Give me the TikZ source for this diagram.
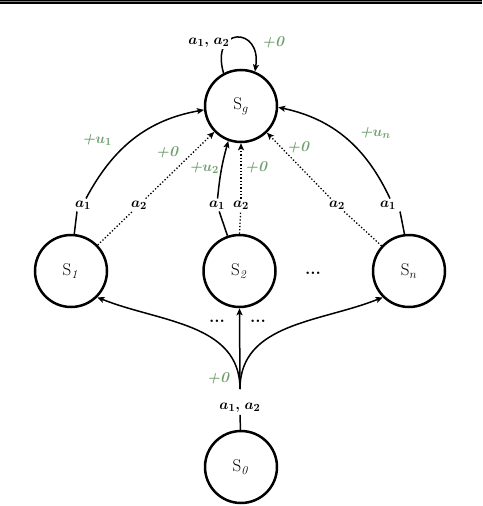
\documentclass[tikz,border=0pt]{standalone}
\usepackage{bm}
\usetikzlibrary{arrows.meta,calc}
\definecolor{rwgreen}{RGB}{112,160,112}
\begin{document}
\begin{tikzpicture}[x=1pt,y=1pt,
  font=\fontsize{15}{17}\selectfont,
  state/.style={circle,draw,line width=2.5pt,minimum size=72pt,inner sep=0pt,font=\fontsize{17}{19}\selectfont},
  act/.style={inner sep=2pt},
  rw/.style={text=rwgreen,inner sep=1pt,font=\fontsize{15}{17}\selectfont\bfseries\itshape},
  dotsty/.style={font=\fontsize{17}{19}\selectfont\bfseries},
  edge/.style={line width=1.5pt},
  dedge/.style={line width=1.3pt,dotted},
  >={Stealth[length=7pt,width=6pt,inset=1.5pt]}]
\useasboundingbox (0,0) rectangle (482,-506);
\fill[black] (0,0) rectangle (482,-3.5);
\fill[gray] (0,-1.2) rectangle (482,-2.3);

% states
\node[state] (Sg) at (241,-106) {S$_g$};
\node[state] (S1) at (71,-271) {S$_{\mathit{1}}$};
\node[state] (S2) at (239.5,-271) {S$_{\mathit{2}}$};
\node[state] (Sn) at (409,-271) {S$_n$};
\node[state] (S0) at (241,-467) {S$_{\mathit{0}}$};

% dots
\node[dotsty] (d1) at (313,-273) {...};
\node[dotsty] (d2) at (217,-321) {...};
\node[dotsty] (d3) at (258,-321) {...};

% action labels
\node[act] (l1a1) at (83,-205) {$\bm{a_1}$};
\node[act] (l1a2) at (139,-205) {$\bm{a_2}$};
\node[act] (l2a1) at (217,-205) {$\bm{a_1}$};
\node[act] (l2a2) at (241,-205) {$\bm{a_2}$};
\node[act] (lna2) at (337,-205) {$\bm{a_2}$};
\node[act] (lna1) at (388,-205) {$\bm{a_1}$};
\node[act] (l0) at (240,-408) {$\bm{a_1}$\textbf{,} $\bm{a_2}$};
\coordinate (stem) at (240,-389);

% self loop on Sg
\draw[edge,->] (Sg.118) .. controls (210,-26) and (262,-26) .. (Sg.68);
\node[act,fill=white,inner sep=1pt] (lg) at (209,-43) {$\bm{a_1}$\textbf{,} $\bm{a_2}$};
\node[rw] (rg) at (273,-42) {+0};

% S1
\draw[edge] (S1.85) -- ($(l1a1.south)+(-6,0)$);
\draw[edge,->] ($(l1a1.north)+(3,0)$) to[out=62,in=190] (Sg.186);
\draw[dedge] (S1) -- (l1a2);
\draw[dedge,->] (l1a2) -- (Sg);
\node[rw] (r11) at (97,-140) {+$\bm{u_1}$};
\node[rw] (r12) at (167,-152) {+0};

% S2
\draw[edge] (S2) -- (l2a1);
\draw[edge,->] (l2a1) to[bend left=5] (Sg.250);
\draw[dedge] (S2.90) -- (l2a2);
\draw[dedge,->] (l2a2) -- (Sg.270);
\node[rw] (r21) at (204,-168) {+$\bm{u_2}$};
\node[rw] (r22) at (256,-167) {+0};

% Sn
\draw[edge] (Sn.97) -- ($(lna1.south)+(12,0)$);
\draw[edge,->] ($(lna1.north)+(2,0)$) to[out=115,in=-12] (Sg.-2);
\draw[dedge] (Sn) -- (lna2);
\draw[dedge,->] (lna2) -- (Sg);
\node[rw] (rn1) at (375,-133) {+$\bm{u_n}$};
\node[rw] (rn2) at (298,-147) {+0};

% S0
\draw[edge] (S0) -- (l0);
\draw[edge,->] (stem) to[out=90,in=-22] (S1.-45);
\draw[edge,->] (stem) -- (S2.270);
\draw[edge,->] (stem) to[out=90,in=202] (Sn.225);
\node[rw] (r0) at (218,-378) {+0};
\end{tikzpicture}
\end{document}
